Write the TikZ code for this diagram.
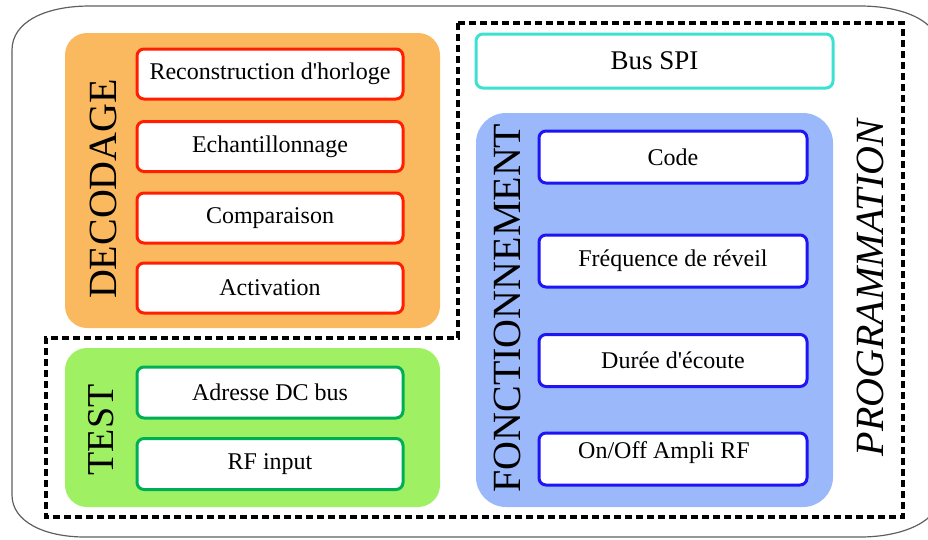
\documentclass[tikz,border=0pt]{standalone}
\usepackage{fontspec}
\setmainfont{Liberation Serif}
\definecolor{orangebg}{RGB}{251,185,95}
\definecolor{greenbg}{RGB}{160,240,100}
\definecolor{bluebg}{RGB}{155,185,250}
\definecolor{redline}{RGB}{255,30,0}
\definecolor{greenline}{RGB}{0,175,85}
\definecolor{blueline}{RGB}{30,20,245}
\definecolor{cyanline}{RGB}{60,225,210}
\definecolor{outerline}{RGB}{95,95,95}
\newcommand{\apos}{\XeTeXglyph\XeTeXcharglyph"0027\relax}
\tikzset{
  panel/.style={draw=none, rounded corners=22pt, inner sep=0pt},
  itembox/.style={draw, fill=white, line width=3pt, rounded corners=7pt,
    inner sep=0pt, font=\fontsize{24}{28}\selectfont},
  redbox/.style={itembox, draw=redline, minimum width=266pt, minimum height=50pt},
  greenbox/.style={itembox, draw=greenline, minimum width=266pt, minimum height=51pt},
  bluebox/.style={itembox, draw=blueline, minimum width=268pt, minimum height=52pt},
  cyanbox/.style={itembox, draw=cyanline, minimum width=357pt, minimum height=54pt, font=\fontsize{27}{31}\selectfont},
  vlabel/.style={rotate=90, inner sep=0pt, font=\fontsize{40}{44}\selectfont},
  dashline/.style={draw, line width=3.2pt, dash pattern=on 7pt off 4pt}
}
\begin{document}
\begin{tikzpicture}[x=1pt,y=-1pt]
\useasboundingbox (0,0) rectangle (928,539);
\clip (0,0) rectangle (928,539);
% outer frame
\draw[outerline, line width=1.2pt]
  (12,50) .. controls (12,22) and (45,6) .. (90,6) -- (860,6)
  .. controls (905,6) and (940,22) .. (940,50) -- (940,495)
  .. controls (940,520) and (905,537) .. (860,537) -- (85,537)
  .. controls (45,537) and (12,522) .. (12,495) -- cycle;
% panels
\node[panel, fill=orangebg, minimum width=375pt, minimum height=295pt] (decp) at (252.5,180.5) {};
\node[panel, fill=greenbg, minimum width=375pt, minimum height=159pt] (testp) at (252.5,427.5) {};
\node[panel, fill=bluebg, rounded corners=30pt, minimum width=357pt, minimum height=394pt] (fonp) at (654.5,310) {};
% dashed programmation outline
\draw[dashline] (458,23) -- (903,23) -- (903,517) -- (46,517) -- (46,338) -- (458,338) -- cycle;
% decodage
\node[redbox] (rec) at (270,74) {Reconstruction d\apos horloge};
\node[redbox] (ech) at (270,146.5) {Echantillonnage};
\node[redbox] (com) at (270,218) {Comparaison};
\node[redbox] (act) at (270,288) {Activation};
\node[vlabel] (decl) at (103,189) {DECODAGE};
% test
\node[greenbox] (adr) at (270,392.5) {Adresse DC bus};
\node[greenbox] (rfi) at (270,464) {RF input};
\node[vlabel, font=\fontsize{38}{42}\selectfont] (testl) at (101,430) {TEST};
% programmation
\node[cyanbox] (spi) at (654.5,61) {Bus SPI};
\node[bluebox] (code) at (673,157) {Code};
\node[bluebox] (freq) at (673,261) {Fréquence de réveil};
\node[bluebox] (dur) at (673,360.5) {Durée d\apos écoute};
\node[bluebox] (onoff) at (673,459) {};
\node[font=\fontsize{24}{28}\selectfont, inner sep=0pt] (onofft) at (664,453) {On/Off Ampli RF};
\node[vlabel] (fonl) at (507,308) {FONCTIONNEMENT};
\node[vlabel, font=\fontsize{40}{44}\selectfont\itshape] (progl) at (870,288) {PROGRAMMATION};
\end{tikzpicture}
\end{document}
